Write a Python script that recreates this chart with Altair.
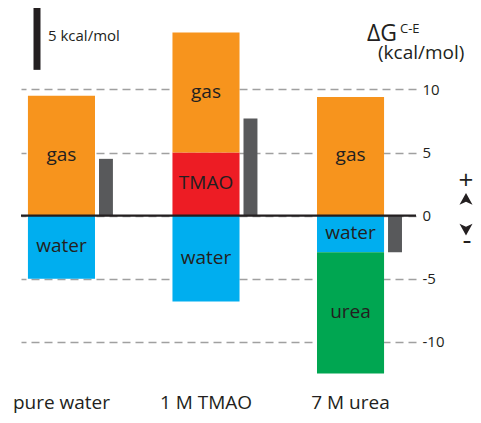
import altair as alt
import pandas as pd

# ---- data ----
groups = ["pure water", "1 M TMAO", "7 M urea"]
gas = [9.5, 9.5, 9.4]
tmao = [0.0, 5.0, 0.0]
water = [-5.0, -6.8, -2.9]
urea = [0.0, 0.0, -9.6]
net = [4.5, 7.7, -2.9]
y_ticks = [-10, -5, 0, 5, 10]
scale_bar_kcal = 5

components = ["gas", "TMAO", "water", "urea"]
comp_colors = ["#F7941D", "#ED1C24", "#00AEEF", "#00A651"]

# ---- build tables ----
rows = []
for i, g in enumerate(groups):
    base = 0.0
    for comp, vals in [("TMAO", tmao), ("gas", gas)]:
        v = vals[i]
        if v > 0:
            rows.append(dict(idx=i, comp=comp, y0=base, y1=base + v))
            base += v
    base = 0.0
    for comp, vals in [("water", water), ("urea", urea)]:
        v = vals[i]
        if v < 0:
            rows.append(dict(idx=i, comp=comp, y0=base, y1=base + v))
            base += v
seg = pd.DataFrame(rows)
seg["ym"] = (seg["y0"] + seg["y1"]) / 2

net_df = pd.DataFrame({"idx": list(range(len(groups))), "group": groups, "net": net})

# ---- layout ----
MAIN_HALF = 0.232
NET_L, NET_R = 0.2595, 0.356
xscale = alt.Scale(domain=[-0.28, 2.453], nice=False, zero=False)
yscale = alt.Scale(domain=[-15.0, 16.45], nice=False, zero=False)
FONT = "Open Sans"
INK = "#231F20"

yaxis = alt.Axis(
    orient="right", values=y_ticks, grid=True, gridDash=[8, 5],
    gridColor="#A0A0A0", gridWidth=1.3, domain=False, ticks=False,
    labelPadding=6, labelFontSize=15, labelFont=FONT, labelColor=INK,
    title=None, labelExpr="datum.value + ''")

bars = alt.Chart(seg).transform_calculate(
    xa=f"datum.idx - {MAIN_HALF}", xb=f"datum.idx + {MAIN_HALF}"
).mark_rect().encode(
    x=alt.X("xa:Q", scale=xscale, axis=None),
    x2="xb:Q",
    y=alt.Y("y0:Q", scale=yscale, axis=yaxis),
    y2="y1:Q",
    color=alt.Color("comp:N", scale=alt.Scale(domain=components, range=comp_colors), legend=None),
)

bar_text = alt.Chart(seg).mark_text(font=FONT, fontSize=19, color=INK, baseline="middle", dy=-1).encode(
    x=alt.X("idx:Q", scale=xscale, axis=None),
    y=alt.Y("ym:Q", scale=yscale, axis=yaxis),
    text="comp:N",
)

net_bars = alt.Chart(net_df).transform_calculate(
    xa=f"datum.idx + {NET_L}", xb=f"datum.idx + {NET_R}", z="0"
).mark_rect(color="#58595B").encode(
    x=alt.X("xa:Q", scale=xscale, axis=None),
    x2="xb:Q",
    y=alt.Y("z:Q", scale=yscale, axis=yaxis),
    y2="net:Q",
)

zero_line = alt.Chart(pd.DataFrame({"v": [0]})).mark_rule(color=INK, strokeWidth=2.2).encode(
    y=alt.Y("v:Q", scale=yscale, axis=yaxis)
)

group_labels = alt.Chart(net_df).mark_text(font=FONT, fontSize=19, color=INK, baseline="alphabetic").encode(
    x=alt.X("idx:Q", scale=xscale, axis=None),
    y=alt.value(400.5),
    text="group:N",
)

one = pd.DataFrame({"a": [0]})
scale_bar = alt.Chart(one).mark_rule(color=INK, strokeWidth=7).encode(
    x=alt.value(16),
    y=alt.Y(datum=11.55, scale=yscale, axis=yaxis),
    y2=alt.Y2(datum=11.55 + scale_bar_kcal),
)

def label(text, x, y, size, align="left", baseline="alphabetic"):
    return alt.Chart(one).mark_text(
        text=text, font=FONT, fontSize=size, color=INK, align=align, baseline=baseline
    ).encode(x=alt.value(x), y=alt.value(y))

PM_X = 445
ann = [
    label("5 kcal/mol", 27, 32.7, 15),
    label("\u0394G", 346, 32.7, 23),
    label("C-E", 379, 25, 13),
    label("(kcal/mol)", 357, 51.3, 19),
    label("+", PM_X, 173, 26, align="center", baseline="middle"),
    label("-", PM_X + 1, 233, 28, align="center", baseline="middle"),
]

arrow_up = alt.Chart(one).mark_point(
    shape="M0,-1L1,0.8L0,0.35L-1,0.8Z", filled=True, size=170, color=INK, opacity=1, strokeWidth=0
).encode(x=alt.value(PM_X), y=alt.value(191.5))
arrow_dn = alt.Chart(one).mark_point(
    shape="M0,1L1,-0.8L0,-0.35L-1,-0.8Z", filled=True, size=170, color=INK, opacity=1, strokeWidth=0
).encode(x=alt.value(PM_X), y=alt.value(221))

chart = alt.layer(
    bars, net_bars, bar_text, zero_line, group_labels, scale_bar, *ann, arrow_up, arrow_dn
).properties(
    width=395, height=397,
    autosize=alt.AutoSizeParams(type="none"),
    padding={"left": 13, "top": 0, "right": 57, "bottom": 10},
).configure_view(stroke=None)

chart.save("out.html", embed_options={"renderer": "svg", "actions": False})
